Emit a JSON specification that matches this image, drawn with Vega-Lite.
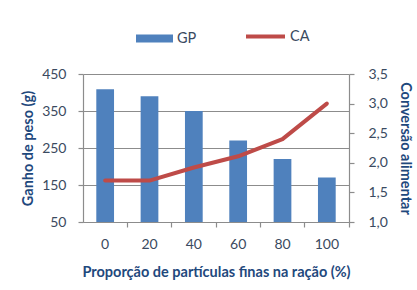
{
  "$schema": "https://vega.github.io/schema/vega-lite/v6.json",
  "width": 266,
  "height": 148,
  "autosize": {"type": "none"},
  "padding": {"left": 83, "top": 74, "right": 68, "bottom": 68},
  "background": "white",
  "config": {
    "font": "Lato",
    "view": {"stroke": null},
    "axis": {
      "labelFont": "Lato",
      "titleFont": "Lato",
      "labelFontSize": 14,
      "titleFontSize": 14.5,
      "labelColor": "#3A4A60",
      "titleColor": "#1F497D",
      "titleFontWeight": "bold",
      "domainColor": "#8C8C8C",
      "tickColor": "#8C8C8C",
      "gridColor": "#8C8C8C",
      "domainWidth": 1.2,
      "gridWidth": 1.2,
      "tickWidth": 1.2,
      "tickSize": 5
    },
    "legend": {
      "labelFont": "Lato",
      "labelFontSize": 14.5,
      "labelColor": "#3A4A60",
      "padding": 0
    }
  },
  "data": {
    "values": [
      {"p": "0", "GP": 409, "CA": 1.7},
      {"p": "20", "GP": 390, "CA": 1.7},
      {"p": "40", "GP": 350, "CA": 1.92},
      {"p": "60", "GP": 270, "CA": 2.11},
      {"p": "80", "GP": 220, "CA": 2.4},
      {"p": "100", "GP": 170, "CA": 3.0}
    ]
  },
  "encoding": {
    "x": {
      "field": "p",
      "type": "ordinal",
      "sort": null,
      "scale": {"paddingInner": 0.6, "paddingOuter": 0.3},
      "axis": {
        "title": "Proporção de partículas finas na ração (%)",
        "labelAngle": 0,
        "labelPadding": 10,
        "titlePadding": 14,
        "bandPosition": 1.75,
        "grid": false
      }
    }
  },
  "layer": [
    {
      "mark": {"type": "bar", "color": "#4F81BD", "clip": true},
      "encoding": {
        "y": {
          "field": "GP",
          "type": "quantitative",
          "scale": {"domain": [50, 450], "nice": false, "zero": false},
          "axis": {
            "title": "Ganho de peso (g)",
            "values": [50, 150, 250, 350, 450],
            "grid": true,
            "labelPadding": 12,
            "titlePadding": 6
          }
        },
        "fill": {
          "datum": "GP",
          "scale": {"range": ["#4F81BD"]},
          "legend": {
            "title": null,
            "orient": "none",
            "legendX": 53,
            "legendY": -54,
            "symbolType": "M-1,-0.22H1V0.22H-1Z",
            "symbolSize": 1369,
            "symbolStrokeWidth": 0,
            "labelOffset": 4
          }
        }
      }
    },
    {
      "mark": {"type": "line", "strokeWidth": 4, "strokeCap": "round", "strokeJoin": "round"},
      "encoding": {
        "y": {
          "field": "CA",
          "type": "quantitative",
          "scale": {"domain": [1, 3.5], "nice": false, "zero": false},
          "axis": {
            "title": "Conversão alimentar",
            "orient": "right",
            "values": [1, 1.5, 2, 2.5, 3, 3.5],
            "labelExpr": "replace(format(datum.value, '.1f'), '.', ',')",
            "grid": false,
            "labelPadding": 14,
            "titlePadding": 10
          }
        },
        "stroke": {
          "datum": "CA",
          "scale": {"range": ["#BE4B48"]},
          "legend": {
            "title": null,
            "orient": "none",
            "legendX": 161,
            "legendY": -59,
            "symbolType": "stroke",
            "symbolSize": 1521,
            "symbolStrokeWidth": 4,
            "labelOffset": 3
          }
        }
      }
    }
  ],
  "resolve": {"scale": {"y": "independent"}}
}
